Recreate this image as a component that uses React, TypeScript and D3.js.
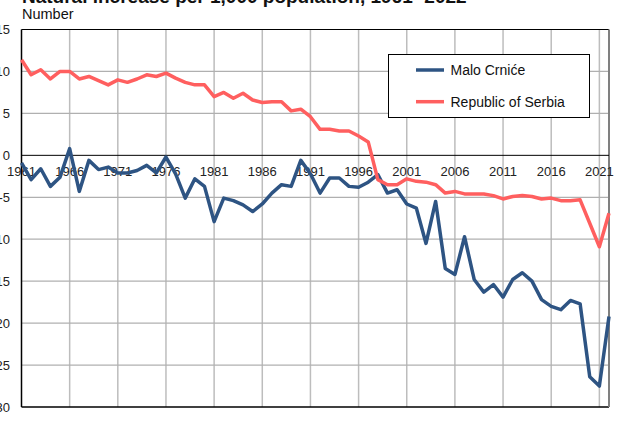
import { useEffect, useRef } from "react";
import * as d3 from "d3";

const years = d3.range(1961, 2023);

// natural increase per 1,000 population
const maloCrnice = [
  -0.9, -2.9, -1.6, -3.7, -2.6, 0.8, -4.3, -0.6, -1.7, -1.4,
  -2.1, -2.1, -1.8, -1.2, -2.1, -0.2, -2.2, -5.1, -2.8, -3.7,
  -7.9, -5.1, -5.4, -5.9, -6.7, -5.8, -4.5, -3.5, -3.7, -0.6,
  -2.2, -4.5, -2.7, -2.7, -3.7, -3.8, -3.2, -2.3, -4.5, -4.1,
  -5.8, -6.3, -10.5, -5.5, -13.5, -14.2, -9.7, -14.8, -16.3, -15.4,
  -16.9, -14.8, -14.0, -15.0, -17.2, -18.0, -18.4, -17.3, -17.7, -26.4,
  -27.5, -19.2,
];

const serbia = [
  11.4, 9.6, 10.2, 9.1, 10.0, 10.0, 9.1, 9.4, 8.9, 8.4,
  9.0, 8.7, 9.1, 9.6, 9.4, 9.8, 9.2, 8.7, 8.4, 8.4,
  7.0, 7.5, 6.8, 7.4, 6.6, 6.3, 6.4, 6.4, 5.3, 5.5,
  4.6, 3.1, 3.1, 2.9, 2.9, 2.3, 1.6, -2.9, -3.5, -3.5,
  -2.8, -3.1, -3.2, -3.5, -4.5, -4.3, -4.6, -4.6, -4.6, -4.8,
  -5.2, -4.9, -4.8, -4.9, -5.2, -5.1, -5.4, -5.4, -5.3, -8.1,
  -10.9, -6.9,
];

const seriesNames = ["Malo Crniće", "Republic of Serbia"];
const seriesColors = ["#2e5483", "#ff5f5f"];
const yTicks = [15, 10, 5, 0, -5, -10, -15, -20, -25, -30];
const xTicks = d3.range(1961, 2022, 5);

const W = 618;
const H = 428;
const M = { top: 29.5, right: 9, bottom: 21, left: 21.5 };
const FONT = "'Liberation Sans', Arial, sans-serif";

export default function App() {
  const ref = useRef<SVGSVGElement>(null);

  useEffect(() => {
    const svg = d3.select(ref.current);
    svg.selectAll("*").remove();

    const x = d3.scaleLinear().domain([1961, 2022]).range([M.left, W - M.right]);
    const y = d3.scaleLinear().domain([-30, 15]).range([H - M.bottom, M.top]);

    svg.append("rect").attr("width", W).attr("height", H).attr("fill", "#fff");

    // grid
    svg
      .append("g")
      .selectAll("line")
      .data(xTicks.filter((t) => t > 1961))
      .join("line")
      .attr("x1", (d) => x(d))
      .attr("x2", (d) => x(d))
      .attr("y1", y(15))
      .attr("y2", y(-30))
      .attr("stroke", "#bdbdbd")
      .attr("stroke-width", 1.5);

    svg
      .append("g")
      .selectAll("line")
      .data(yTicks.filter((t) => t < 15 && t > -30 && t !== 0))
      .join("line")
      .attr("x1", x(1961))
      .attr("x2", x(2022))
      .attr("y1", (d) => y(d))
      .attr("y2", (d) => y(d))
      .attr("stroke", "#b0b0b0")
      .attr("stroke-width", 1.2);

    // frame
    svg.append("line").attr("x1", x(1961)).attr("x2", x(2022)).attr("y1", y(15)).attr("y2", y(15)).attr("stroke", "#000");
    svg.append("line").attr("x1", x(1961)).attr("x2", x(2022)).attr("y1", y(-30)).attr("y2", y(-30)).attr("stroke", "#000").attr("stroke-width", 1.5);
    svg.append("line").attr("x1", x(1961)).attr("x2", x(1961)).attr("y1", y(15)).attr("y2", y(-30)).attr("stroke", "#000").attr("stroke-width", 1.5);
    svg.append("line").attr("x1", x(2022)).attr("x2", x(2022)).attr("y1", y(15)).attr("y2", y(-30)).attr("stroke", "#808080").attr("stroke-width", 2);
    svg.append("line").attr("x1", x(1961)).attr("x2", x(2022)).attr("y1", y(0)).attr("y2", y(0)).attr("stroke", "#000");

    // y labels
    svg
      .append("g")
      .selectAll("text")
      .data(yTicks)
      .join("text")
      .attr("x", 10)
      .attr("y", (d) => y(d))
      .attr("dy", "0.35em")
      .attr("text-anchor", "end")
      .attr("font-family", FONT)
      .attr("font-size", 13)
      .attr("fill", "#222")
      .text((d) => d);

    // x labels just under the zero line
    svg
      .append("g")
      .selectAll("text")
      .data(xTicks)
      .join("text")
      .attr("x", (d) => x(d))
      .attr("y", y(0) + 21)
      .attr("text-anchor", "middle")
      .attr("font-family", FONT)
      .attr("font-size", 13)
      .attr("fill", "#222")
      .text((d) => d);

    const line = d3
      .line<number>()
      .x((_, i) => x(years[i]))
      .y((d) => y(d));

    [maloCrnice, serbia].forEach((vals, i) => {
      svg
        .append("path")
        .attr("d", line(vals))
        .attr("fill", "none")
        .attr("stroke", seriesColors[i])
        .attr("stroke-width", 3.5)
        .attr("stroke-linejoin", "round");
    });

    // legend
    const lg = svg.append("g");
    lg.append("rect")
      .attr("x", 388.5)
      .attr("y", 54.5)
      .attr("width", 201)
      .attr("height", 63)
      .attr("fill", "#fff")
      .attr("stroke", "#000");
    seriesNames.forEach((name, i) => {
      const ly = 70 + i * 31.7;
      lg.append("line")
        .attr("x1", 416)
        .attr("x2", 444)
        .attr("y1", ly)
        .attr("y2", ly)
        .attr("stroke", seriesColors[i])
        .attr("stroke-width", 3.5);
      lg.append("text")
        .attr("x", 450.5)
        .attr("y", ly)
        .attr("dy", "0.35em")
        .attr("font-family", FONT)
        .attr("font-size", 14)
        .attr("fill", "#111")
        .text(name);
    });

    // titles (the heading is cropped at the top edge, as in the source)
    svg
      .append("text")
      .attr("x", 22)
      .attr("y", 3)
      .attr("font-family", FONT)
      .attr("font-size", 19)
      .attr("font-weight", "bold")
      .attr("fill", "#111")
      .text("Natural increase per 1,000 population, 1961- 2022");
    svg
      .append("text")
      .attr("x", 22)
      .attr("y", 19)
      .attr("font-family", FONT)
      .attr("font-size", 14.5)
      .attr("fill", "#111")
      .text("Number");
  }, []);

  return (
    <div style={{ position: "absolute", left: 0, top: 0 }}>
      <svg ref={ref} width={W} height={H} style={{ display: "block" }} />
    </div>
  );
}
